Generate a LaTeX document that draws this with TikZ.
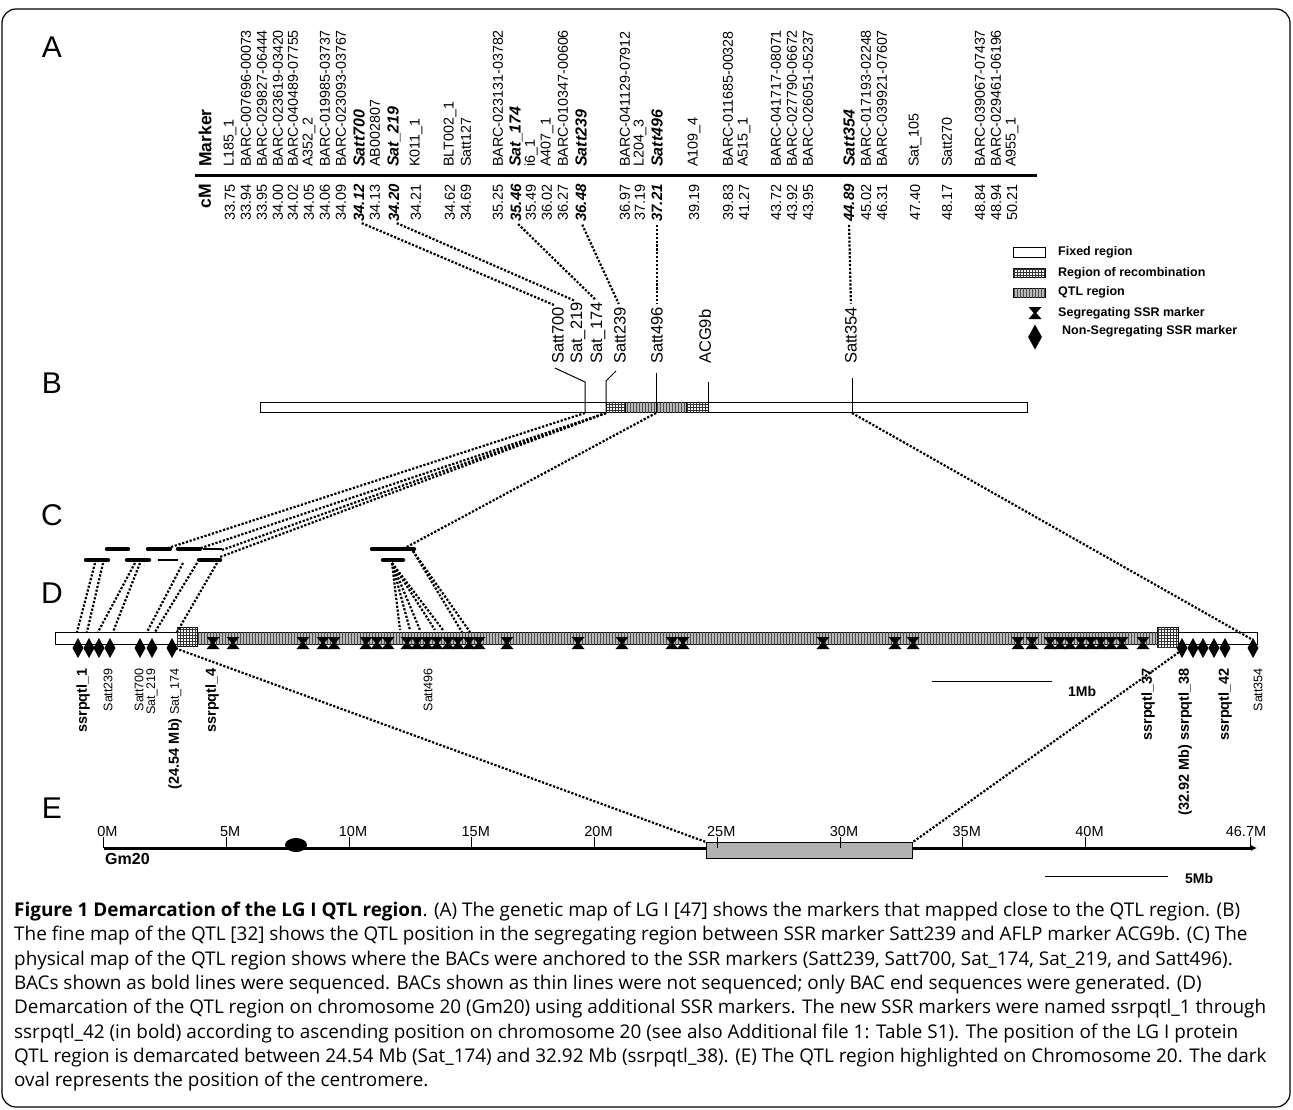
\documentclass[tikz,border=0pt]{standalone}
\usepackage{fontspec}
\setmainfont{Liberation Sans}
\newfontfamily\capfont{Open Sans}
\usepackage{tikz}
\usetikzlibrary{arrows.meta, patterns, calc}

\newcommand{\fsz}[1]{\fontsize{#1}{#1}\selectfont}

\begin{document}
\begin{tikzpicture}[
    x=1pt, y=-1pt,
    panel/.style={font=\fsz{30}, inner sep=0},
    mk/.style={rotate=90, anchor=west, inner sep=0, font=\fsz{14.3}},
    mkb/.style={rotate=90, anchor=west, inner sep=0, font=\fsz{16}\bfseries\itshape},
    cmv/.style={rotate=90, anchor=east, inner sep=0, font=\fsz{14.5}},
    cmb/.style={rotate=90, anchor=east, inner sep=0, font=\fsz{15}\bfseries\itshape},
    blab/.style={rotate=90, anchor=west, inner sep=0, font=\fsz{16.5}},
    dlab/.style={rotate=90, anchor=east, inner sep=0, font=\fsz{12.5}},
    dlabb/.style={rotate=90, anchor=east, inner sep=0, font=\fsz{14.5}\bfseries},
    leg/.style={anchor=west, inner sep=0, font=\fsz{12.5}\bfseries},
    axlab/.style={anchor=base, inner sep=0, font=\fsz{14.5}},
    link/.style={draw, line width=2.2pt, dash pattern=on 2.2pt off 1.7pt},
    leader/.style={draw, line width=1pt},
    fixedreg/.style={draw, line width=1pt, fill=white},
    recomb/.style={draw, line width=0.8pt, fill=white, postaction={pattern=grid, pattern color=black!80}},
    qtlreg/.style={draw, line width=0.8pt, fill=gray!55, postaction={pattern=vertical lines, pattern color=black!70}},
    bac/.style={line width=4.5pt, line cap=round},
    bacthin/.style={line width=1.3pt},
    capline/.style={anchor=base west, inner sep=0, font=\capfont\fsz{18.9}},
    hg/.pic={\fill (-6.5,-6) -- (6.5,-6) -- (1.3,0) -- (6.5,6) -- (-6.5,6) -- (-1.3,0) -- cycle;},
    dia/.pic={\fill (0,-10) -- (5.5,0) -- (0,10) -- (-5.5,0) -- cycle;}
]
\useasboundingbox (0,0) rectangle (1293,1109);
\draw[line width=1.2pt, rounded corners=14pt] (2,9) rectangle (1290,1107);

\node[panel] (pa) at (52,47) {A};
\node[panel] (pb) at (52,383) {B};
\node[panel] (pc) at (52,515) {C};
\node[panel] (pd) at (52,593) {D};
\node[panel] (pe) at (52,808) {E};

% A: genetic map
\draw[line width=3pt] (195,175) -- (1037,175);
\node[rotate=90, anchor=west, inner sep=0, font=\fsz{17.5}\bfseries] (hmark) at (205,167) {Marker};
\node[rotate=90, anchor=east, inner sep=0, font=\fsz{17.5}\bfseries] (hcm) at (205,184) {cM};
\foreach \x/\t/\c in {230/L185\_1/33.75, 246/BARC-007696-00073/33.94, 262/BARC-029827-06444/33.95,
    278/BARC-023619-03420/34.00, 293/BARC-040489-07755/34.02, 309/A352\_2/34.05,
    325/BARC-019985-03737/34.06, 341/BARC-023093-03767/34.09, 375/AB002807/34.13,
    416/K011\_1/34.21, 450/BLT002\_1/34.62, 466/Satt127/34.69, 498/BARC-023131-03782/35.25,
    531/i6\_1/35.49, 547/A407\_1/36.02, 563/BARC-010347-00606/36.27, 625/BARC-041129-07912/36.97,
    640/L204\_3/37.19, 694/A109\_4/39.19, 728/BARC-011685-00328/39.83, 744/A515\_1/41.27,
    776/BARC-041717-08071/43.72, 792/BARC-027790-06672/43.92, 808/BARC-026051-05237/43.95,
    866/BARC-017193-02248/45.02, 882/BARC-039921-07607/46.31, 915/Sat\_105/47.40,
    947/Satt270/48.17, 980/BARC-039067-07437/48.84, 996/BARC-029461-06196/48.94, 1012/A955\_1/50.21}{
  \node[mk] (m\x) at (\x,167) {\t};
  \node[cmv] (c\x) at (\x,184) {\c};
}
\foreach \x/\t/\c in {359/Satt700/34.12, 394/Sat\_219/34.20, 516/Sat\_174/35.46,
    581/Satt239/36.48, 657/Satt496/37.21, 849/Satt354/44.89}{
  \node[mkb] (m\x) at (\x,167) {\t};
  \node[cmb] (c\x) at (\x,184) {\c};
}

% B: fine map
\node[blab] (bl700) at (558,364) {Satt700};
\node[blab] (bl219) at (578,364) {Sat\_219};
\node[blab] (bl174) at (598,364) {Sat\_174};
\node[blab] (bl239) at (620,364) {Satt239};
\node[blab] (bl496) at (657,364) {Satt496};
\node[blab] (blacg) at (705,364) {ACG9b};
\node[blab] (bl354) at (851,364) {Satt354};

\draw[link, shorten <=3pt, shorten >=3pt] (c359.west) -- (bl700.east);
\draw[link, shorten <=3pt, shorten >=3pt] (c394.west) -- (bl219.east);
\draw[link, shorten <=3pt, shorten >=3pt] (c516.west) -- (bl174.east);
\draw[link, shorten <=3pt, shorten >=3pt] (c581.west) -- (bl239.east);
\draw[link, shorten <=3pt, shorten >=3pt] (c657.west) -- (bl496.east);
\draw[link, shorten <=3pt, shorten >=3pt] (c849.west) -- (bl354.east);

\draw[fixedreg] (260,402) rectangle (1027,412);
\draw[recomb] (606,402) rectangle (625,412);
\draw[qtlreg] (625,402) rectangle (686,412);
\draw[recomb] (686,402) rectangle (708,412);

\draw[leader] (555,368) -- (585,382) -- (585,412);
\draw[leader] (616,371) -- (606,381) -- (606,412);
\draw[leader] (656,373) -- (656,412);
\draw[leader] (708,382) -- (708,412);
\draw[leader] (852,378) -- (852,412);

\coordinate (b700) at (585,413);
\coordinate (b239) at (606,413);
\coordinate (b496) at (656,413);
\coordinate (b354) at (852,413);

% legend
\draw[fixedreg] (1013,247) rectangle (1045,257);
\draw[recomb] (1013,268) rectangle (1045,277);
\draw[qtlreg] (1013,288) rectangle (1045,297);
\pic at (1035,313) {hg};
\pic[scale=1.25] at (1035,337) {dia};
\node[leg] (lfix) at (1058,252) {Fixed region};
\node[leg] (lrec) at (1058,273) {Region of recombination};
\node[leg] (lqtl) at (1058,292) {QTL region};
\node[leg] (lseg) at (1058,313) {Segregating SSR marker};
\node[leg] (lnon) at (1062,331) {Non-Segregating SSR marker};

% C: BACs
\draw[bac] (107,549) -- (128,549);
\draw[bac] (148,549) -- (170,549);
\draw[bac] (178,549) -- (200,549);
\draw[bacthin] (203,549) -- (222,549);
\draw[bac] (86,560) -- (108,560);
\draw[bac] (127,560) -- (149,560);
\draw[bacthin] (158,560) -- (178,560);
\draw[bac] (199,560) -- (220,560);
\draw[bac] (372,549) -- (392,549);
\draw[bac] (394,549) -- (414,549);
\draw[bac] (383,560) -- (403,560);

\draw[link] (b700) -- (168,548);
\draw[link] (b239) -- (198,549);
\draw[link] (b239) -- (222,550);
\draw[link] (b239) -- (220,557);
\draw[link] (b496) -- (403,549);

% D: physical map
\draw[fixedreg] (55,632) rectangle (1257,644);
\draw[qtlreg] (197,632) rectangle (1157,644);
\draw[recomb] (177,627) rectangle (197,646);
\draw[recomb] (1157,627) rectangle (1178,647);

\foreach \x in {213,233,303,323,334,366,377,388,407,417,427,437,448,458,469,479,507,578,622,672,683,823,
    895,913,1018,1032,1050,1060,1070,1081,1091,1101,1111,1122,1143}
  \pic at (\x,643) {hg};
\foreach \x in {78,89,99,110,140,152,172,1182,1193,1203,1214,1225,1253}
  \pic at (\x,648) {dia};

\foreach \a/\b in {95/77, 103/87, 135/98, 140/113, 183/147, 197/155, 217/177}
  \draw[link] (\a,563) -- (\b,632);
\foreach \b in {400,410,420,435,443}
  \draw[link] (392,563) -- (\b,630);
\foreach \b in {462,470}
  \draw[link] (413,551) -- (\b,632);
\draw[link] (b354) -- (1253,640);

\node[dlabb] (dq1) at (83,668) {ssrpqtl\_1};
\node[dlab] (d239) at (108,668) {Satt239};
\node[dlab] (d700) at (139,668) {Satt700};
\node[dlab] (d219) at (152,668) {Sat\_219};
\node[dlab] (d174) at (175,668) {{\fsz{14.5}\bfseries (24.54 Mb)} Sat\_174};
\node[dlabb] (dq4) at (212,668) {ssrpqtl\_4};
\node[dlab] (d496) at (428,668) {Satt496};
\node[dlabb] (dq37) at (1148,668) {ssrpqtl\_37};
\node[dlabb] (dq38) at (1185,668) {(32.92 Mb) ssrpqtl\_38};
\node[dlabb] (dq42) at (1225,668) {ssrpqtl\_42};
\node[dlab] (d354) at (1258,668) {Satt354};

\draw[leader] (932,681) -- (1052,681);
\node[anchor=west, inner sep=0, font=\fsz{14}\bfseries] (mb1) at (1068,691) {1Mb};

% E: chromosome
\coordinate (e0) at (103.5,848);
\coordinate (e1) at (1257,848);
\draw[line width=3pt, -{Latex[length=6pt,width=6pt]}] (e0) -- (e1);
\node[draw, line width=1pt, fill=gray!60, anchor=north west, minimum width=206, minimum height=16, inner sep=0] (qbox) at (706,842) {};
\foreach \m in {0,5,10,15,20,25,30,35,40}{
  \draw[leader] ($(e0)+(24.55*\m,0)$) -- ++(0,-11);
  \node[axlab] (t\m) at ($(e0)+(24.55*\m+4,-12)$) {\m M};
}
\draw[leader] ($(e0)+(24.55*46.7,0)$) -- ++(0,-11);
\node[axlab] (tend) at ($(e0)+(24.55*46.7-4,-12)$) {46.7M};
\fill (296,845) ellipse [x radius=11, y radius=7];
\node[anchor=north west, inner sep=0, font=\fsz{16}\bfseries] (gm) at (105,853) {Gm20};
\draw[leader] (1045,876) -- (1168,876);
\node[anchor=west, inner sep=0, font=\fsz{14}\bfseries] (mb5) at (1185,878) {5Mb};

\draw[link] (172,647) -- (qbox.north west);
\draw[link] (1182,650) -- (qbox.north east);

% caption
\node[capline] (cap1) at (14,916) {\textbf{Figure 1 Demarcation of the LG I QTL region}. (A) The genetic map of LG I [47] shows the markers that mapped close to the QTL region. (B)};
\node[capline] (cap2) at (14,940) {The fine map of the QTL [32] shows the QTL position in the segregating region between SSR marker Satt239 and AFLP marker ACG9b. (C) The};
\node[capline] (cap3) at (14,965) {physical map of the QTL region shows where the BACs were anchored to the SSR markers (Satt239, Satt700, Sat\_174, Sat\_219, and Satt496).};
\node[capline] (cap4) at (14,989) {BACs shown as bold lines were sequenced. BACs shown as thin lines were not sequenced; only BAC end sequences were generated. (D)};
\node[capline] (cap5) at (14,1013) {Demarcation of the QTL region on chromosome 20 (Gm20) using additional SSR markers. The new SSR markers were named ssrpqtl\_1 through};
\node[capline] (cap6) at (14,1038) {ssrpqtl\_42 (in bold) according to ascending position on chromosome 20 (see also Additional file 1: Table S1). The position of the LG I protein};
\node[capline] (cap7) at (14,1062) {QTL region is demarcated between 24.54 Mb (Sat\_174) and 32.92 Mb (ssrpqtl\_38). (E) The QTL region highlighted on Chromosome 20. The dark};
\node[capline] (cap8) at (14,1086) {oval represents the position of the centromere.};
\end{tikzpicture}
\end{document}
